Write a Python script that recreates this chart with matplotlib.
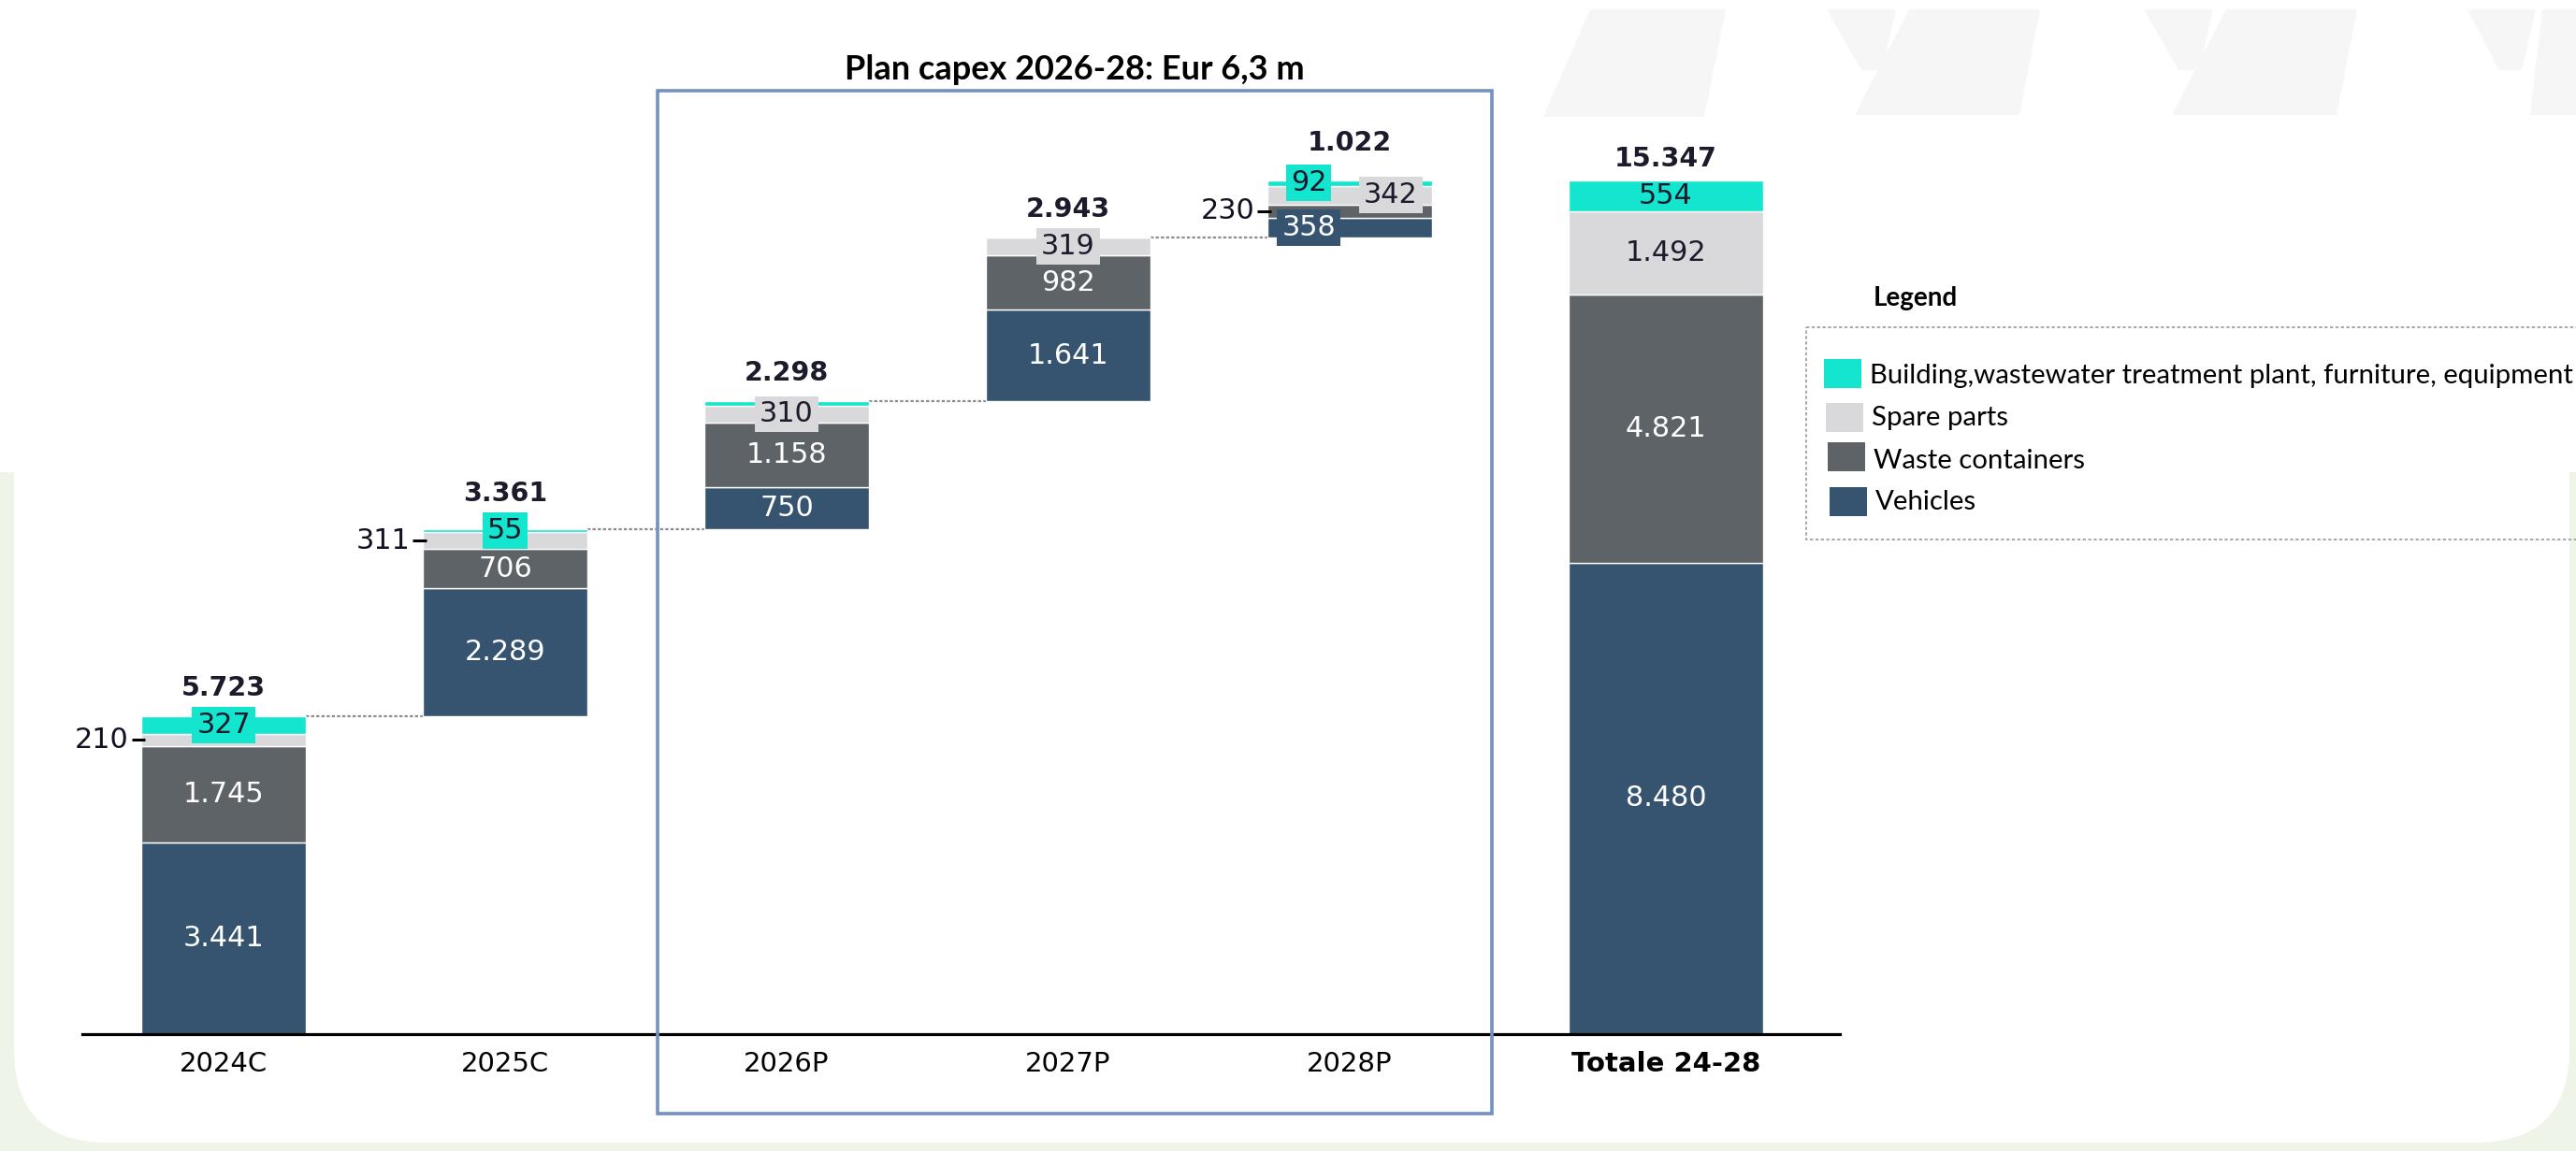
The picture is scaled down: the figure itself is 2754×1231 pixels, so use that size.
import matplotlib.pyplot as plt
from matplotlib.patches import Rectangle, FancyBboxPatch, Polygon

# data (EUR thousands)
categories = ["2024C", "2025C", "2026P", "2027P", "2028P", "Totale 24-28"]
vehicles = [3441, 2289, 750, 1641, 358, 8480]
waste_containers = [1745, 706, 1158, 982, 230, 4821]
spare_parts = [210, 311, 310, 319, 342, 1492]
building = [327, 55, 80, 1, 92, 554]
totals = [5723, 3361, 2298, 2943, 1022, 15347]
series_names = ["Vehicles", "Waste containers", "Spare parts",
                "Building,wastewater treatment plant, furniture, equipment"]
title_text = "Plan capex 2026-28: Eur 6,3 m"

colors = ["#36546f", "#5e6367", "#d9d9dc", "#14e5cf"]
text_colors = ["white", "white", "#1b1b2b", "#1b1b2b"]
x_pos = [0, 1, 2, 3, 4, 5.123]
widths = [0.585, 0.585, 0.585, 0.585, 0.585, 0.694]

# how each small value is labelled: (category, segment) -> (kind, x offset)
label_kind = {
    (0, 2): ("side", 0), (0, 3): ("box", 0),
    (1, 2): ("side", 0), (1, 3): ("box", 0),
    (2, 2): ("box", 0), (2, 3): (None, 0),
    (3, 2): ("box", 0), (3, 3): (None, 0),
    (4, 0): ("box", -0.146), (4, 1): ("side", 0),
    (4, 2): ("box", 0.146), (4, 3): ("box", -0.146),
}
total_offset = [30, 38, 30, 30, 40, 23]


def fmt(v):
    return f"{v:,}".replace(",", ".")


W, H = 2754, 1231
fig = plt.figure(figsize=(W / 100, H / 100), dpi=100)

# background layer in pixel coordinates
bg = fig.add_axes([0, 0, 1, 1], zorder=0)
bg.set_xlim(0, W)
bg.set_ylim(H, 0)
bg.axis("off")
bg.add_patch(Rectangle((0, 505), W, H - 505, color="#eff4e9", lw=0))
bg.add_patch(FancyBboxPatch((15, -300), W - 22, 1522, boxstyle="round,pad=0,rounding_size=100",
                            fc="white", ec="none"))
wm = "#f6f6f6"
for dx in [0, 339]:
    bg.add_patch(Polygon([(1953 + dx, 10), (2027 + dx, 10), (2012 + dx, 75), (1990 + dx, 75)], color=wm, lw=0))
    bg.add_patch(Polygon([(2041 + dx, 10), (2181 + dx, 10), (2159 + dx, 123), (1983 + dx, 123)], color=wm, lw=0))
bg.add_patch(Polygon([(1700, 10), (1845, 10), (1822, 125), (1650, 125)], color=wm, lw=0))
bg.add_patch(Polygon([(2638, 10), (2711, 10), (2696, 75), (2672, 75)], color=wm, lw=0))
bg.add_patch(Polygon([(2718, 10), (2760, 10), (2760, 123), (2705, 123)], color=wm, lw=0))

# legend drawn by hand, clipped by the figure edge like the original
bg.add_patch(Rectangle((1931, 350), 900, 227, fill=False, ec="#9a9a9a", lw=1.2, ls=(0, (2, 1.5))))
bg.text(2003, 319, "Legend", fontsize=20, fontweight="bold", family=["Lato", "DejaVu Sans"],
        va="center", ha="left")
leg_rows = [(384, 402), (431, 447), (473, 493), (521, 537)]
for k, (y0, yt) in enumerate(leg_rows):
    s = 3 - k
    bg.add_patch(Rectangle((1950 + 2 * k, y0), 40, 31, color=colors[s], lw=0))
    bg.text(1999 + 2 * k, yt, series_names[s], fontsize=21.2, family=["Lato", "DejaVu Sans"],
            va="center", ha="left")

# main chart
ax = fig.add_axes([0.03195, 0.1015, 0.6823, 0.8578], zorder=2)
ax.patch.set_alpha(0)
ax.set_xlim(-0.502, 5.741)
ax.set_ylim(0, 17750)
for sp in ["top", "right", "left"]:
    ax.spines[sp].set_visible(False)
ax.spines["bottom"].set_linewidth(2.3)
ax.spines["bottom"].set_color("black")
ax.set_yticks([])
ax.set_xticks(x_pos)
ax.set_xticklabels(categories, fontsize=21)
ax.get_xticklabels()[-1].set_fontweight("bold")
ax.tick_params(axis="x", length=0, pad=13)

segments = [vehicles, waste_containers, spare_parts, building]
start = 0
starts = []
for i in range(len(categories)):
    if i == len(categories) - 1:
        start = 0
    starts.append(start)
    bottom = start
    for s, seg in enumerate(segments):
        v = seg[i]
        ax.bar(x_pos[i], v, widths[i], bottom=bottom, color=colors[s], edgecolor="white",
               linewidth=1, zorder=2)
        kind, dx = label_kind.get((i, s), ("in", 0))
        yc = bottom + v / 2
        if kind == "in":
            ax.text(x_pos[i], yc, fmt(v), ha="center", va="center", fontsize=21.8,
                    color=text_colors[s], zorder=4)
        elif kind == "box":
            ax.text(x_pos[i] + dx, yc, fmt(v), ha="center", va="center", fontsize=21.8,
                    color=text_colors[s], zorder=5,
                    bbox=dict(boxstyle="square,pad=0.16", fc=colors[s], ec="none"))
        elif kind == "side":
            left = x_pos[i] - widths[i] / 2
            ax.plot([left - 0.035, left + 0.012], [yc, yc], color="black", lw=2.2, zorder=5,
                    solid_capstyle="butt")
            ax.text(left - 0.045, yc, fmt(v), ha="right", va="center", fontsize=21.8,
                    color="#111122", zorder=5)
        bottom += v
    ax.annotate(fmt(totals[i]), (x_pos[i], bottom), xytext=(0, total_offset[i] * 0.72),
                textcoords="offset points", ha="center", va="center", fontsize=20.5,
                fontweight="bold", color="#1b1b2b", zorder=5)
    start = bottom

# dotted connectors between floating bars
for i in range(4):
    top = starts[i + 1]
    ax.plot([x_pos[i] + widths[i] / 2, x_pos[i + 1] - widths[i + 1] / 2], [top, top],
            color="#8c8c8c", lw=1.6, ls=(0, (1.5, 1)), zorder=1)

# frame around the plan years
x0 = x_pos[2] - 0.46
x1 = x_pos[4] + 0.505
ax.add_patch(Rectangle((x0, -1429), x1 - x0, 16960 + 1429, fill=False, ec="#7391c2",
                       lw=2.6, clip_on=False, zorder=3))
ax.text((x0 + x1) / 2, 17347, title_text, ha="center", va="center", fontsize=26,
        fontweight="bold", family=["Lato", "DejaVu Sans"])

fig.savefig("out.png", dpi=100)
